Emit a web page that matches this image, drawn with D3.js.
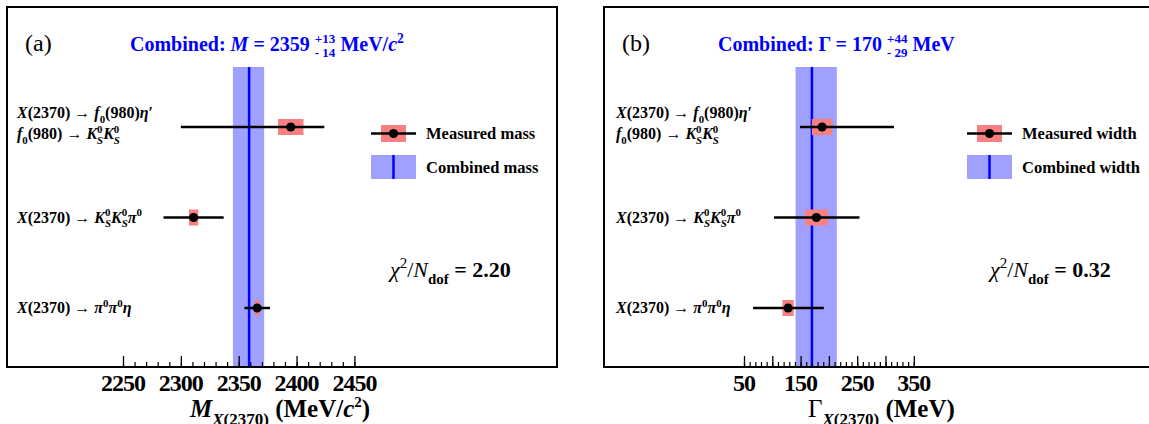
<!DOCTYPE html>
<html>
<head>
<meta charset="utf-8">
<script src="https://cdn.jsdelivr.net/npm/d3@7"></script>
<style>
    body { margin: 0; background: #fff; }
</style>
</head>
<body>
<svg id="chart" width="1149" height="424"></svg>
<script>
// decay channels, top to bottom
var channels = ['f0etap', 'kskspi0', 'pi0pi0eta'];

// panel (a): mass of X(2370), MeV/c^2
var massValues = [2395, 2311, 2366];
var massStat = [11, 4, 2];
var massLow = [95, 26, 11];
var massHigh = [29, 26, 11];
var massCombined = [2359, 13, 14];   // value, +err, -err
var massChi2 = '2.20';
var massTickLabels = [2250, 2300, 2350, 2400, 2450];
var massLegend = ['Measured mass', 'Combined mass'];

// panel (b): width of X(2370), MeV
var widthValues = [188, 178, 128];
var widthStat = [18, 20, 10];
var widthLow = [39, 75, 62];
var widthHigh = [127, 76, 63];
var widthCombined = [170, 44, 29];
var widthChi2 = '0.32';
var widthTickLabels = [50, 150, 250, 350];
var widthLegend = ['Measured width', 'Combined width'];

var bandColor = '#a0a0ff';
var statColor = '#f88080';
var blue = '#0000ff';
var serif = "'Liberation Serif', 'Times New Roman', Times, serif";

var svg = d3.select('#chart')
    .attr('font-family', serif)
    .style('font-family', serif);
svg.append('rect').attr('width', 1149).attr('height', 424).attr('fill', '#fff');

// text with italic parts, sub- and superscripts
function rich(parent, x, y, segs, size) {
    var text = parent.append('text')
        .attr('x', x)
        .attr('y', y)
        .attr('font-family', serif)
        .attr('font-size', size)
        .attr('font-weight', 'bold');
    var shift = 0, dx = 0;
    function span(str, off, fs, italic, weight) {
        var t = text.append('tspan')
            .attr('dy', off - shift)
            .attr('font-size', fs)
            .text(str);
        if (dx) t.attr('dx', dx);
        if (italic) t.attr('font-style', 'italic');
        if (weight) t.attr('font-weight', weight);
        shift = off;
        dx = 0;
        return t;
    }
    segs.forEach(function(s) {
        var small = size * (s.k || 0.68);
        if (s.up !== undefined && s.dn !== undefined) {
            var a = span(s.up, -0.4 * size, small, s.upI, s.w);
            var wa = a.node().getComputedTextLength();
            dx = -wa;
            var b = span(s.dn, 0.3 * size, small, s.dnI, s.w);
            var wb = b.node().getComputedTextLength();
            dx = Math.max(0, wa - wb);
        } else if (s.up !== undefined) {
            span(s.up, -0.4 * size, small, s.i, s.w);
        } else if (s.dn !== undefined) {
            span(s.dn, 0.3 * size, small, s.i, s.w);
        } else {
            span(s.t, 0, size, s.i, s.w);
        }
    });
    return text;
}

var arrow = {t: ' \u2192 ', w: 'normal'};
var X2370 = [{t: 'X', i: 1}, {t: '(2370)'}, arrow];
var f0 = [{t: 'f', i: 1}, {dn: '0'}, {t: '(980)'}];
var KS = [{t: 'K', i: 1}, {up: '0', dn: 'S', dnI: 1}];
var pi0 = [{t: '\u03c0', i: 1}, {up: '0'}];

var channelLabels = [
    [X2370.concat(f0, [{t: '\u03b7', i: 1}, {t: '\u2032'}]),
     f0.concat([arrow], KS, KS)],
    [X2370.concat(KS, KS, pi0)],
    [X2370.concat(pi0, pi0, [{t: '\u03b7', i: 1}])]
];

function drawPanel(cfg) {
    var g = svg.append('g');
    var bottom = 367, top = 7, bandTop = 67;

    var x = d3.scaleLinear().domain(cfg.domain).range(cfg.range);
    var y = d3.scalePoint().domain(channels).range([127, 308]);

    var rows = channels.map(function(c, i) {
        return {c: c, v: cfg.values[i], s: cfg.stat[i], lo: cfg.low[i], hi: cfg.high[i]};
    });
    var comb = cfg.combined;

    // combined band and central value
    g.append('rect')
        .attr('x', x(comb[0] - comb[2]))
        .attr('y', bandTop)
        .attr('width', x(comb[0] + comb[1]) - x(comb[0] - comb[2]))
        .attr('height', bottom - bandTop)
        .attr('fill', bandColor);
    g.append('line')
        .attr('x1', x(comb[0])).attr('x2', x(comb[0]))
        .attr('y1', bandTop).attr('y2', bottom)
        .attr('stroke', blue)
        .attr('stroke-width', 2.5);

    // frame
    g.append('rect')
        .attr('x', cfg.frame[0])
        .attr('y', top)
        .attr('width', cfg.frame[1] - cfg.frame[0])
        .attr('height', bottom - top)
        .attr('fill', 'none')
        .attr('stroke', '#000')
        .attr('stroke-width', 2);

    // axis ticks pointing inward
    var major = g.append('g')
        .attr('transform', 'translate(0,' + bottom + ')')
        .call(d3.axisBottom(x)
            .tickValues(x.ticks(cfg.majorCount))
            .tickSize(-11)
            .tickPadding(7)
            .tickFormat(function(d) { return cfg.tickLabels.indexOf(d) >= 0 ? d : ''; }));
    major.select('.domain').remove();
    major.attr('font-family', serif)
        .attr('font-size', 24)
        .attr('font-weight', 'bold');
    major.selectAll('text').attr('letter-spacing', -1).attr('dx', -0.5);
    major.selectAll('line').attr('stroke-width', 1.3);

    var minor = g.append('g')
        .attr('transform', 'translate(0,' + bottom + ')')
        .call(d3.axisBottom(x)
            .tickValues(x.ticks(cfg.minorCount))
            .tickSize(-5)
            .tickFormat(''));
    minor.select('.domain').remove();
    minor.selectAll('line').attr('stroke-width', 1.2);

    // statistical boxes
    g.selectAll('rect.stat')
        .data(rows)
        .enter().append('rect')
        .attr('class', 'stat')
        .attr('x', function(d) { return x(d.v - d.s); })
        .attr('y', function(d) { return y(d.c) - 8; })
        .attr('width', function(d) { return x(d.v + d.s) - x(d.v - d.s); })
        .attr('height', 16)
        .attr('fill', statColor);

    // total error bars
    g.selectAll('line.err')
        .data(rows)
        .enter().append('line')
        .attr('class', 'err')
        .attr('x1', function(d) { return x(d.v - d.lo); })
        .attr('x2', function(d) { return x(d.v + d.hi); })
        .attr('y1', function(d) { return y(d.c); })
        .attr('y2', function(d) { return y(d.c); })
        .attr('stroke', '#000')
        .attr('stroke-width', 2.5);

    g.selectAll('circle.pt')
        .data(rows)
        .enter().append('circle')
        .attr('class', 'pt')
        .attr('cx', function(d) { return x(d.v); })
        .attr('cy', function(d) { return y(d.c); })
        .attr('r', 4.6)
        .attr('fill', '#000');

    // channel labels
    channels.forEach(function(c, i) {
        var lines = channelLabels[i];
        if (lines.length === 2) {
            rich(g, cfg.labelX, y(c) - 9, lines[0], 16);
            rich(g, cfg.labelX, y(c) + 12, lines[1], 16);
        } else {
            rich(g, cfg.labelX, y(c) + 5, lines[0], 16);
        }
    });

    // legend
    var lx = cfg.legendX;
    g.append('rect')
        .attr('x', lx + 10).attr('y', 125)
        .attr('width', 25).attr('height', 17)
        .attr('fill', statColor);
    g.append('line')
        .attr('x1', lx).attr('x2', lx + 45)
        .attr('y1', 133.5).attr('y2', 133.5)
        .attr('stroke', '#000')
        .attr('stroke-width', 2.5);
    g.append('circle')
        .attr('cx', lx + 22.5).attr('cy', 133.5)
        .attr('r', 4.6)
        .attr('fill', '#000');
    g.append('rect')
        .attr('x', lx).attr('y', 155)
        .attr('width', 45).attr('height', 24)
        .attr('fill', bandColor);
    g.append('line')
        .attr('x1', lx + 22.5).attr('x2', lx + 22.5)
        .attr('y1', 155).attr('y2', 179)
        .attr('stroke', blue)
        .attr('stroke-width', 2.5);
    g.append('text')
        .attr('x', lx + 55).attr('y', 139)
        .attr('font-family', serif)
        .attr('font-size', 16.5).attr('font-weight', 'bold')
        .text(cfg.legend[0]);
    g.append('text')
        .attr('x', lx + 55).attr('y', 173)
        .attr('font-family', serif)
        .attr('font-size', 16.5).attr('font-weight', 'bold')
        .text(cfg.legend[1]);

    // chi2
    rich(g, cfg.chi2X, 277, [
        {t: '\u03c7', i: 1, w: 'normal'}, {up: '2', w: 'normal'},
        {t: '/', w: 'normal'}, {t: 'N', i: 1, w: 'normal'},
        {dn: 'dof'}, {t: ' = ' + cfg.chi2}
    ], 22);

    // panel tag
    g.append('text')
        .attr('x', cfg.frame[0] + 18).attr('y', 51)
        .attr('font-family', serif)
        .attr('font-size', 24)
        .text(cfg.tag);

    // title
    rich(g, cfg.titleX, 51, cfg.title, 20).attr('fill', blue);

    // axis title
    rich(g, cfg.axisTitleX, 417, cfg.axisTitle, 25);
}

drawPanel({
    values: massValues, stat: massStat, low: massLow, high: massHigh,
    combined: massCombined, chi2: massChi2, tickLabels: massTickLabels,
    legend: massLegend,
    domain: [2250, 2450], range: [123, 354.4], frame: [7, 557],
    majorCount: 4, minorCount: 20,
    labelX: 17, legendX: 371, chi2X: 390, titleX: 130, axisTitleX: 190,
    tag: '(a)',
    title: [{t: 'Combined: '}, {t: 'M', i: 1}, {t: ' = ' + massCombined[0] + ' '},
        {up: '+' + massCombined[1], dn: '- ' + massCombined[2], k: 0.65},
        {t: ' MeV/'}, {t: 'c', i: 1}, {up: '2'}],
    axisTitle: [{t: 'M', i: 1}, {dn: 'X', i: 1}, {dn: '(2370)'},
        {t: ' (MeV/'}, {t: 'c', i: 1}, {up: '2', k: 0.6}, {t: ')'}]
});

drawPanel({
    values: widthValues, stat: widthStat, low: widthLow, high: widthHigh,
    combined: widthCombined, chi2: widthChi2, tickLabels: widthTickLabels,
    legend: widthLegend,
    domain: [50, 350], range: [744, 913.8], frame: [604, 1153],
    majorCount: 6, minorCount: 30,
    labelX: 616, legendX: 967, chi2X: 990, titleX: 718, axisTitleX: 808,
    tag: '(b)',
    title: [{t: 'Combined: '}, {t: '\u0393'}, {t: ' = ' + widthCombined[0] + ' '},
        {up: '+' + widthCombined[1], dn: '- ' + widthCombined[2], k: 0.65},
        {t: ' MeV'}],
    axisTitle: [{t: '\u0393', w: 'normal'}, {dn: 'X', i: 1}, {dn: '(2370)'},
        {t: ' (MeV)'}]
});
</script>
</body>
</html>
